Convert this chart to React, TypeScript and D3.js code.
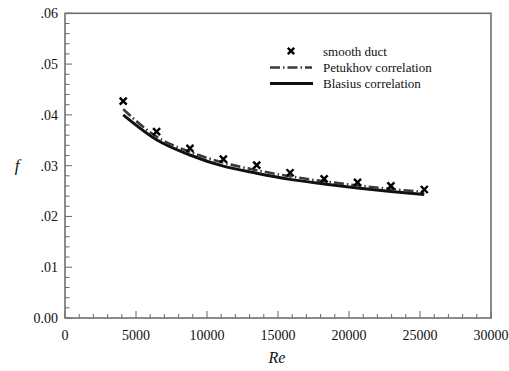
import React from "react";
import * as d3 from "d3";

const reValues = [4100, 6450, 8800, 11150, 13500, 15850, 18250, 20600, 22950, 25300];
const smoothDuct = [0.0427, 0.0367, 0.0334, 0.0313, 0.0301, 0.0286, 0.0274, 0.0267, 0.026, 0.0253];
const petukhov = [0.0411, 0.0357, 0.0327, 0.0306, 0.0291, 0.0279, 0.0269, 0.0261, 0.0254, 0.0248];
const blasius = [0.04, 0.0351, 0.0321, 0.0299, 0.0285, 0.0273, 0.0264, 0.0256, 0.0249, 0.0243];
const xTicks = [0, 5000, 10000, 15000, 20000, 25000, 30000];
const yTicks = [0, 0.01, 0.02, 0.03, 0.04, 0.05, 0.06];
const yTickLabels = ["0.00", ".01", ".02", ".03", ".04", ".05", ".06"];
const legendLabels = ["smooth duct", "Petukhov correlation", "Blasius correlation"];

export default function App() {
  const W = 509, H = 371;
  const x = d3.scaleLinear().domain([0, 30000]).range([65, 491]);
  const y = d3.scaleLinear().domain([0, 0.06]).range([318, 13.3]);
  const line = d3.line<number>().x((_, i) => x(reValues[i])).y((d) => y(d)).curve(d3.curveMonotoneX);
  const xMinor = d3.range(0, 30001, 1000);
  const yMinor = d3.range(0, 61, 2).map((v) => v / 1000);
  const ts: React.CSSProperties = { fontFamily: "'Liberation Serif', 'DejaVu Serif', serif" };
  const cross = (cx: number, cy: number, s: number, key?: any) => (
    <g key={key} stroke="#000" strokeWidth={2.4}>
      <line x1={cx - s} y1={cy - s} x2={cx + s} y2={cy + s} />
      <line x1={cx - s} y1={cy + s} x2={cx + s} y2={cy - s} />
    </g>
  );
  return (
    <svg width={W} height={H} style={{ position: "absolute", left: 0, top: 0 }}>
      <rect width={W} height={H} fill="#fff" />
      {xMinor.map((v) => (
        <line key={"xm" + v} x1={x(v)} x2={x(v)} y1={318} y2={v % 5000 === 0 ? 311 : 314} stroke="#666" strokeWidth={1} />
      ))}
      {yMinor.map((v, i) => (
        <line key={"ym" + i} x1={65} x2={i % 5 === 0 ? 72 : 69.5} y1={y(v)} y2={y(v)} stroke="#666" strokeWidth={1} />
      ))}
      <rect x={65} y={13.3} width={426} height={304.7} fill="none" stroke="#707070" strokeWidth={1.6} />
      {xTicks.map((v) => (
        <text key={"xt" + v} style={ts} x={x(v)} y={340} fontSize={14} textAnchor="middle" fill="#111">{v}</text>
      ))}
      {yTicks.map((v, i) => (
        <text key={"yt" + i} style={ts} x={58} y={y(v) + 5} fontSize={14} textAnchor="end" fill="#111">{yTickLabels[i]}</text>
      ))}
      <text style={ts} x={277} y={363} fontSize={16} fontStyle="italic" textAnchor="middle" fill="#111">Re</text>
      <text style={ts} x={17} y={171} fontSize={17} fontStyle="italic" textAnchor="middle" fill="#111">f</text>
      <path d={line(blasius) || ""} fill="none" stroke="#111" strokeWidth={3} />
      <path d={line(petukhov) || ""} fill="none" stroke="#3a3a3a" strokeWidth={2.6} strokeDasharray="10 3 1.5 3" />
      {smoothDuct.map((v, i) => cross(x(reValues[i]), y(v), 3.5, "c" + i))}
      {cross(291, 51, 3.2)}
      <line x1={270} x2={312} y1={67.5} y2={67.5} stroke="#3a3a3a" strokeWidth={2.6} strokeDasharray="10 3 1.5 3" />
      <line x1={270} x2={313} y1={83.5} y2={83.5} stroke="#111" strokeWidth={3} />
      {legendLabels.map((t, i) => (
        <text key={t} style={ts} x={323} y={56 + i * 16} fontSize={13} fill="#111">{t}</text>
      ))}
    </svg>
  );
}
